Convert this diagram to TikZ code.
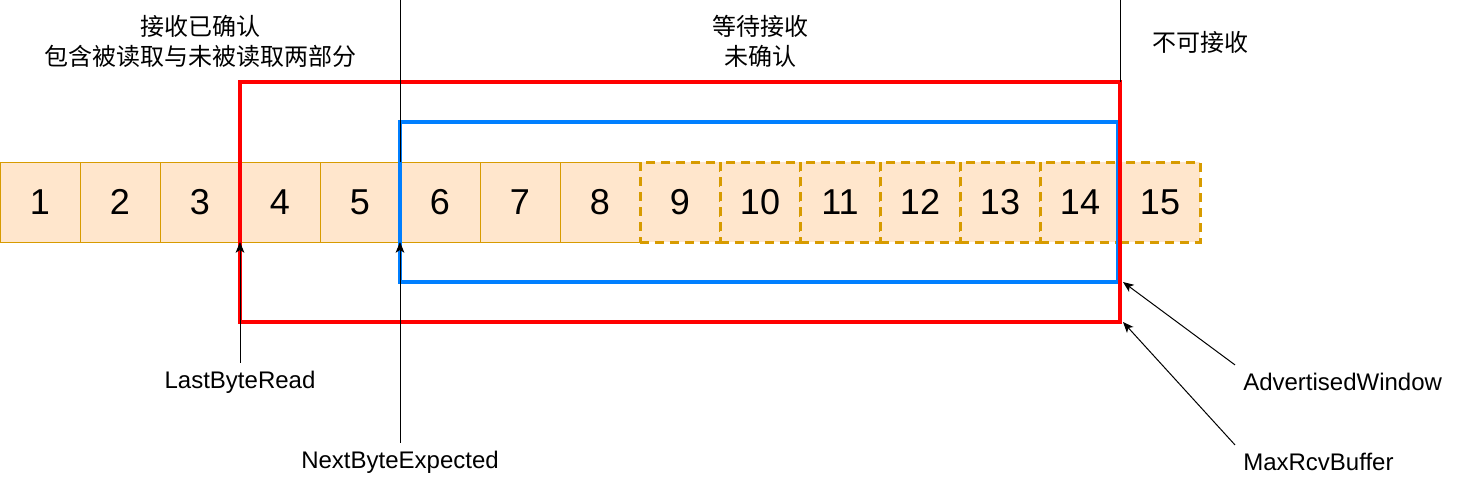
\documentclass[tikz,border=0pt]{standalone}
\usepackage{fontspec}
\setmainfont{Liberation Sans}
\newfontfamily\cjk{Noto Sans CJK SC}
\usetikzlibrary{arrows.meta,positioning}
\definecolor{cellfill}{HTML}{FFE6CC}
\definecolor{cellline}{HTML}{D79B00}
\definecolor{winred}{HTML}{FF0000}
\definecolor{winblue}{HTML}{007FFF}

\begin{document}
\begin{tikzpicture}[x=0.75pt, y=-0.75pt, node distance=0pt,
    cell/.style={draw=cellline, fill=cellfill, line width=0.75pt, minimum size=60pt,
      inner sep=0pt, outer sep=0pt, font=\fontsize{27}{32}\selectfont},
    pending/.style={cell, line width=2.25pt, dash pattern=on 6.75pt off 4.5pt},
    note/.style={font=\fontsize{18}{22.5}\selectfont, inner sep=6pt},
    cjknote/.style={note, align=center, font=\cjk\fontsize{18}{22.5}\selectfont},
    ptr/.style={-{Stealth[length=8pt,width=6.5pt,inset=2pt]}, line width=0.75pt}]
    \useasboundingbox (0,0) rectangle (1481,482);
    % bytes of the buffer
    \node[cell] (c1) at (40,202) {1};
    \foreach \i [evaluate=\i as \prev using int(\i-1)] in {2,...,8}
      \node[cell, right=of c\prev] (c\i) {\i};
    \foreach \i [evaluate=\i as \prev using int(\i-1)] in {9,...,15}
      \node[pending, right=of c\prev] (c\i) {\i};
    % windows
    \coordinate (rtl) at (240,82);
    \coordinate (rtr) at (1120,82);
    \coordinate (rbr) at (1120,322);
    \coordinate (btl) at (400,122);
    \coordinate (bbr) at (1118,282);
    \draw[winblue, line width=2.6pt] (btl) rectangle (bbr);
    \draw[winred, line width=2.6pt] (rtl) rectangle (rbr);
    % region texts
    \node[cjknote] (acked) at (200,41) {接收已确认\\包含被读取与未被读取两部分};
    \node[cjknote] (waiting) at (760,41) {等待接收\\未确认};
    \node[cjknote] (refused) at (1200,42) {不可接收};
    \coordinate (top1) at (400,0);
    \coordinate (top2) at (1120,0);
    \draw[line width=0.75pt] (top1) -- (c6.north west);
    \draw[line width=0.75pt] (top2) -- (rtr);
    % pointers
    \node[note] (lbr) at (240,382) {LastByteRead};
    \node[note] (nbe) at (400,462) {NextByteExpected};
    \node[note, anchor=west] (adw) at (1235,382) {AdvertisedWindow};
    \node[note, anchor=west] (mrb) at (1235,462) {MaxRcvBuffer};
    \coordinate (awtip) at (1123,282);
    \coordinate (mrtip) at (1123,322);
    \draw[ptr] (lbr) -- (c4.south west);
    \draw[ptr] (nbe) -- (c6.south west);
    \draw[ptr] (adw.north west) -- (awtip);
    \draw[ptr] (mrb.north west) -- (mrtip);
\end{tikzpicture}
\end{document}
